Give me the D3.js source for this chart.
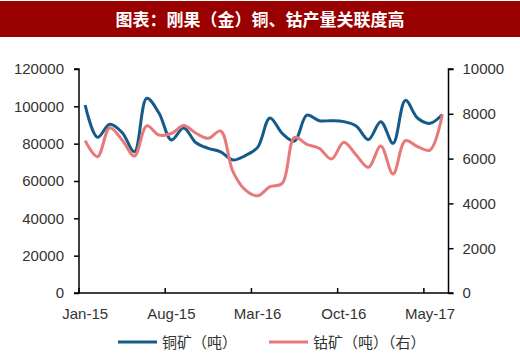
<!DOCTYPE html>
<html><head><meta charset="utf-8">
<script src="https://cdn.jsdelivr.net/npm/d3@7/dist/d3.min.js"></script>
<style>body{margin:0;background:#fff}svg{display:block}</style>
</head><body>
<svg id="c" width="520" height="359"></svg>
<script>
const months = ["Jan-15","Feb-15","Mar-15","Apr-15","May-15","Jun-15","Jul-15","Aug-15","Sep-15","Oct-15","Nov-15","Dec-15",
"Jan-16","Feb-16","Mar-16","Apr-16","May-16","Jun-16","Jul-16","Aug-16","Sep-16","Oct-16","Nov-16","Dec-16",
"Jan-17","Feb-17","Mar-17","Apr-17","May-17","Jun-17"];
const copper = [100700,83400,90400,86000,75700,104300,96300,82000,88400,80500,77500,75600,71250,73600,78000,93800,85500,81400,95300,92300,92300,91800,89500,82200,91800,80200,103200,93600,90900,95600];
const cobalt = [6800,6085,7380,6830,6115,7460,7053,7120,7480,7130,6905,7232,5415,4600,4340,4745,4895,6950,6640,6460,5980,6725,6160,5610,6560,5310,6800,6530,6380,7970];
const leftTicks = [0,20000,40000,60000,80000,100000,120000];
const rightTicks = [0,2000,4000,6000,8000,10000];
const labelMonths = ["Jan-15","Aug-15","Mar-16","Oct-16","May-17"];
const titleText = "图表：刚果（金）铜、钴产量关联度高";
const legendNames = ["铜矿（吨）","钴矿（吨）（右）"];

const svg = d3.select("#c");
const L = 79, R = 448.5, T = 69, B = 293;
const blue = "#165a8a", red = "#e8797a";

svg.append("rect").attr("x",0).attr("y",1).attr("width",520).attr("height",36).attr("fill","#990000");
svg.append("text").attr("x",260).attr("y",26).attr("text-anchor","middle")
  .attr("fill","#fff").attr("font-family","'Noto Sans CJK SC'").attr("font-size",17).attr("font-weight","bold")
  .text(titleText);

const x = d3.scaleBand().domain(months).range([L,R]);
const yL = d3.scaleLinear().domain([0,120000]).range([B,T]);
const yR = d3.scaleLinear().domain([0,10000]).range([B,T]);
const font = "'Liberation Sans', Arial, sans-serif";

// left axis
const gl = svg.append("g").attr("transform",`translate(${L},0)`)
  .call(d3.axisLeft(yL).tickValues(leftTicks).tickSize(5).tickPadding(10).tickFormat(d3.format("d")));
// right axis
const gr = svg.append("g").attr("transform",`translate(${R},0)`)
  .call(d3.axisRight(yR).tickValues(rightTicks).tickSize(5).tickPadding(9).tickFormat(d3.format("d")));
[gl,gr].forEach(g=>{
  g.select(".domain").attr("d", g===gl ? `M-5,${T}H0V${B}H-5` : `M5,${T}H0V${B}H5`).attr("stroke","#000").attr("stroke-width",1.5);
  g.selectAll(".tick line").attr("stroke","#000").attr("stroke-width",1.5);
  g.selectAll(".tick text").attr("font-family",font).attr("font-size",15).attr("fill","#333");
});
// x axis
const gx = svg.append("g").attr("transform",`translate(0,${B})`);
gx.append("line").attr("x1",L).attr("x2",R).attr("stroke","#000").attr("stroke-width",1.5);
gx.selectAll("line.t").data(labelMonths).join("line").attr("class","t")
  .attr("x1",d=>x(d)).attr("x2",d=>x(d)).attr("y1",0).attr("y2",-5).attr("stroke","#000").attr("stroke-width",1.5);
gx.selectAll("text").data(labelMonths).join("text")
  .attr("x",d=>x(d)+x.bandwidth()/2).attr("y",26).attr("text-anchor","middle")
  .attr("font-family",font).attr("font-size",15).attr("fill","#333").text(d=>d);

const cx = (d,i)=>x(months[i])+x.bandwidth()/2;
const lineL = d3.line().x(cx).y(d=>yL(d)).curve(d3.curveCatmullRom.alpha(0.5));
const lineR = d3.line().x(cx).y(d=>yR(d)).curve(d3.curveCatmullRom.alpha(0.5));
svg.append("path").attr("d",lineL(copper)).attr("fill","none").attr("stroke",blue).attr("stroke-width",3);
svg.append("path").attr("d",lineR(cobalt)).attr("fill","none").attr("stroke",red).attr("stroke-width",3);

// legend
const lg = [{c:blue,x:118,t:legendNames[0]},{c:red,x:269,t:legendNames[1]}];
lg.forEach(d=>{
  svg.append("line").attr("x1",d.x).attr("x2",d.x+39).attr("y1",342).attr("y2",342).attr("stroke",d.c).attr("stroke-width",3);
  svg.append("text").attr("x",d.x+44).attr("y",348).attr("font-family","'Noto Sans CJK SC'").attr("font-size",15).attr("fill","#333").text(d.t);
});
</script>
</body></html>
